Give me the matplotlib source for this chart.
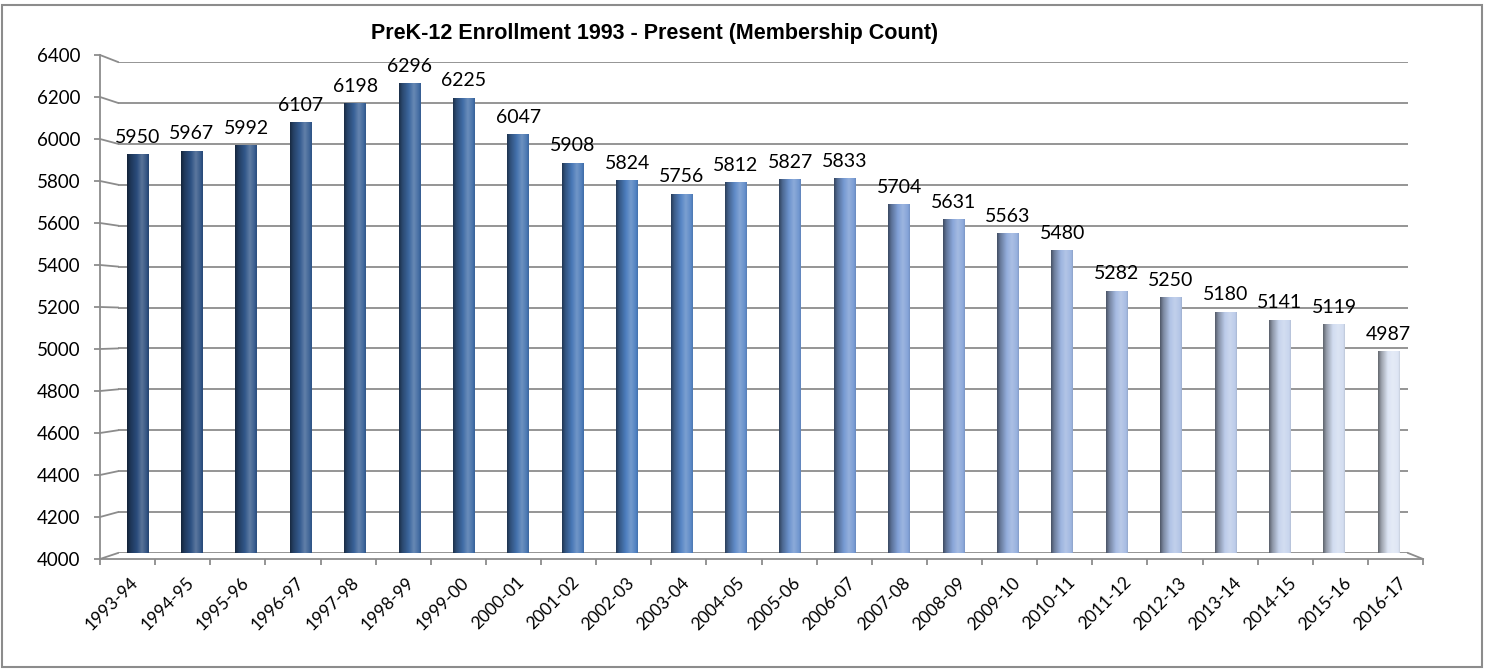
import numpy as np
import matplotlib
matplotlib.use("Agg")
import matplotlib.pyplot as plt
from matplotlib.colors import LinearSegmentedColormap, to_rgb
from matplotlib.lines import Line2D
from matplotlib.patches import Rectangle

# --- data ---
years = ['1993-94', '1994-95', '1995-96', '1996-97', '1997-98', '1998-99',
         '1999-00', '2000-01', '2001-02', '2002-03', '2003-04', '2004-05',
         '2005-06', '2006-07', '2007-08', '2008-09', '2009-10', '2010-11',
         '2011-12', '2012-13', '2013-14', '2014-15', '2015-16', '2016-17']
enrollment = [5950, 5967, 5992, 6107, 6198, 6296, 6225, 6047, 5908, 5824,
              5756, 5812, 5827, 5833, 5704, 5631, 5563, 5480, 5282, 5250,
              5180, 5141, 5119, 4987]
y_ticks = list(range(4000, 6401, 200))

W, H = 1485, 670
fig = plt.figure(figsize=(W / 100, H / 100), dpi=100, facecolor='white')

def box(l, t, r, b):
    # pixel box -> figure fraction [left, bottom, width, height]
    return [l / W, 1 - b / H, (r - l) / W, (b - t) / H]

grid_col = '#8c8c8c'
num_font = 'Lato'

# front axis (labels, ticks) -- the 3D chart's front plane
front = fig.add_axes(box(100, 55, 1423, 559))
front.set_xlim(0, len(years))
front.set_ylim(4000, 6400)
front.patch.set_visible(False)
for s in ['top', 'right']:
    front.spines[s].set_visible(False)
for s in ['left', 'bottom']:
    front.spines[s].set_color(grid_col)
    front.spines[s].set_linewidth(1.3)
front.set_yticks(y_ticks)
front.set_yticklabels([str(v) for v in y_ticks], fontsize=13.5, family=num_font)
front.tick_params(axis='y', direction='out', length=4, width=1.3, color=grid_col, pad=10)
front.set_xticks(np.arange(len(years) + 1))
front.set_xticklabels([])
front.tick_params(axis='x', which='major', direction='out', length=4, width=1.3, color=grid_col)
front.set_xticks(np.arange(len(years)) + 0.55, minor=True)
front.set_xticklabels(years, minor=True, rotation=45, ha='right', va='top',
                      rotation_mode='anchor', fontsize=12.5, family=num_font)
front.tick_params(axis='x', which='minor', length=0, pad=11)

# back wall with gridlines and the columns
ax = fig.add_axes(box(118, 62, 1408, 553))
ax.patch.set_visible(False)
for s in ax.spines.values():
    s.set_visible(False)
ax.set_yticks(y_ticks)
ax.yaxis.grid(True, color=grid_col, lw=1.3)
ax.set_axisbelow(True)
ax.tick_params(left=False, bottom=False, labelleft=False, labelbottom=False)

cmap = LinearSegmentedColormap.from_list(
    'enr', ['#2a4c7c', '#3b659c', '#4d7fc0', '#7f9fd6', '#a9bde3', '#dde5f4'])

# horizontal shading across a cylinder
t = np.linspace(0, 1, 80)
shade = np.interp(t, [0, 0.15, 0.45, 0.68, 0.9, 1.0],
                  [-0.55, -0.3, 0.0, 0.22, 0.05, -0.1])

bw = 0.4
n = len(years)
for i, v in enumerate(enrollment):
    base = np.array(to_rgb(cmap(i / (n - 1))))
    row = []
    for s in shade:
        if s < 0:
            row.append(base * (1 + s))
        else:
            row.append(base + (1 - base) * s)
    img = np.array(row)[None, :, :]
    bars = ax.bar(i, v - 4000, bottom=4000, width=bw, color=base, lw=0, zorder=2)
    im = ax.imshow(img, extent=[i - bw / 2, i + bw / 2, 4000, v], aspect='auto',
                   zorder=3, interpolation='bilinear')
    im.set_clip_path(bars[0])
    ax.annotate(str(v), (i, v), xytext=(0, 6), textcoords='offset points',
                ha='center', va='bottom', fontsize=14, family=num_font)

ax.set_xlim(-0.358, 23.355)
ax.set_ylim(4000, 6400)

# side-wall connectors between front axis ticks and back gridlines
inv = fig.transFigure.inverted()
for v in y_ticks:
    p0 = front.transData.transform((0, v))
    p1 = (ax.transAxes.transform((0, 0))[0], ax.transData.transform((0, v))[1])
    a, b = inv.transform(p0), inv.transform(p1)
    fig.add_artist(Line2D([a[0], b[0]], [a[1], b[1]], color=grid_col, lw=1.3))
a = inv.transform(ax.transAxes.transform((1, 0)))
b = inv.transform(front.transAxes.transform((1, 0)))
fig.add_artist(Line2D([a[0], b[0]], [a[1], b[1]], color=grid_col, lw=1.3))

fig.text(655 / W, 1 - 33 / H, 'PreK-12 Enrollment 1993 - Present (Membership Count)',
         ha='center', va='center', fontsize=15.5, fontweight='bold',
         family='Liberation Sans')

fig.add_artist(Rectangle((2 / W, 3 / H), 1480 / W, 662 / H, transform=fig.transFigure,
                         fill=False, ec=grid_col, lw=1.5))

fig.savefig('out.png', dpi=100, facecolor='white')
